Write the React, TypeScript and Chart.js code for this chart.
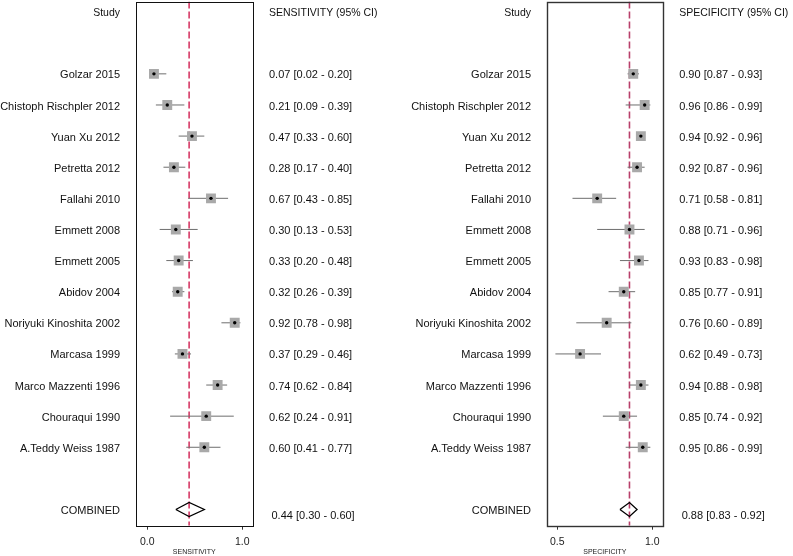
import React, { useEffect, useRef } from 'react';
import { Chart, registerables } from 'chart.js';
Chart.register(...registerables);

const studies = [
  'Golzar 2015', 'Chistoph Rischpler 2012', 'Yuan Xu 2012', 'Petretta 2012', 'Fallahi 2010',
  'Emmett 2008', 'Emmett 2005', 'Abidov 2004', 'Noriyuki Kinoshita 2002', 'Marcasa 1999',
  'Marco Mazzenti 1996', 'Chouraqui 1990', 'A.Teddy Weiss 1987',
];
const sens = [0.07, 0.21, 0.47, 0.28, 0.67, 0.30, 0.33, 0.32, 0.92, 0.37, 0.74, 0.62, 0.60];
const sensLo = [0.02, 0.09, 0.33, 0.17, 0.43, 0.13, 0.20, 0.26, 0.78, 0.29, 0.62, 0.24, 0.41];
const sensHi = [0.20, 0.39, 0.60, 0.40, 0.85, 0.53, 0.48, 0.39, 0.98, 0.46, 0.84, 0.91, 0.77];
const spec = [0.90, 0.96, 0.94, 0.92, 0.71, 0.88, 0.93, 0.85, 0.76, 0.62, 0.94, 0.85, 0.95];
const specLo = [0.87, 0.86, 0.92, 0.87, 0.58, 0.71, 0.83, 0.77, 0.60, 0.49, 0.88, 0.74, 0.86];
const specHi = [0.93, 0.99, 0.96, 0.96, 0.81, 0.96, 0.98, 0.91, 0.89, 0.73, 0.98, 0.92, 0.99];
const sensCombined = [0.44, 0.30, 0.60];
const specCombined = [0.88, 0.83, 0.92];
const sensTicks = [0.0, 1.0];
const specTicks = [0.5, 1.0];
const combinedLabel = 'COMBINED';
const studyHeader = 'Study';

const FONT = '"Liberation Sans", Arial, Helvetica, sans-serif';
const Y_MIN = -0.325;
const Y_MAX = 16.52;
const COMB_ROW = 16;

type PanelCfg = {
  est: number[]; lo: number[]; hi: number[]; comb: number[];
  header: string; axisTitle: string; ticks: number[];
  xmin: number; xmax: number; padLeft: number; padRight: number;
  refColor: string; boxColor: string; boxWidth: number;
};

const fmt = (v: number) => v.toFixed(2);

function makeChart(canvas: HTMLCanvasElement, cfg: PanelCfg) {
  const datasets: any[] = [];
  datasets.push({
    data: [{ x: cfg.comb[0], y: Y_MIN }, { x: cfg.comb[0], y: Y_MAX }],
    showLine: true, borderColor: cfg.refColor, borderWidth: 1.6, borderDash: [7, 3],
    pointRadius: 0, order: 6,
  });
  studies.forEach((_, i) => {
    datasets.push({
      data: [{ x: cfg.lo[i], y: i + 2 }, { x: cfg.hi[i], y: i + 2 }],
      showLine: true, borderColor: '#6e6e6e', borderWidth: 1, pointRadius: 0, order: 5,
    });
  });
  datasets.push({
    data: cfg.est.map((v, i) => ({ x: v, y: i + 2 })),
    pointStyle: 'rect', pointRadius: 7, backgroundColor: '#a9a9a9', pointBackgroundColor: '#a9a9a9',
    borderWidth: 0, pointBorderWidth: 0, showLine: false, order: 3,
  });
  datasets.push({
    data: cfg.est.map((v, i) => ({ x: v, y: i + 2 })),
    pointStyle: 'circle', pointRadius: 1.7, backgroundColor: '#000', pointBackgroundColor: '#000',
    borderWidth: 0, pointBorderWidth: 0, showLine: false, order: 2,
  });
  const [c, l, h] = cfg.comb;
  const dh = 0.225;
  datasets.push({
    data: [
      { x: l, y: COMB_ROW }, { x: c, y: COMB_ROW - dh }, { x: h, y: COMB_ROW },
      { x: c, y: COMB_ROW + dh }, { x: l, y: COMB_ROW },
    ],
    showLine: true, borderColor: '#000', borderWidth: 1.3, pointRadius: 0,
    borderJoinStyle: 'miter', fill: false, order: 1,
  });

  const textPlugin = {
    id: 'forestText',
    afterDraw(chart: any) {
      const { ctx, chartArea: a } = chart;
      const y = chart.scales.y;
      ctx.save();
      ctx.strokeStyle = cfg.boxColor;
      ctx.lineWidth = cfg.boxWidth;
      const L = Math.round(a.left) + 0.5, T = Math.round(a.top) + 0.5;
      const R = Math.round(a.right) + 0.5, B = Math.round(a.bottom) + 0.5;
      ctx.strokeRect(L, T, R - L, B - T);

      ctx.fillStyle = '#111';
      ctx.textBaseline = 'middle';
      ctx.font = `10.5px ${FONT}`;
      ctx.textAlign = 'right';
      ctx.fillText(studyHeader, a.left - 16, y.getPixelForValue(0) + 1.5);
      ctx.textAlign = 'left';
      ctx.fillText(cfg.header, a.right + 16.5, y.getPixelForValue(0) + 1.5);

      ctx.font = `11px ${FONT}`;
      studies.forEach((s, i) => {
        const py = y.getPixelForValue(i + 2) + 1.5;
        ctx.textAlign = 'right';
        ctx.fillText(s, a.left - 16, py);
        ctx.textAlign = 'left';
        ctx.fillText(`${fmt(cfg.est[i])} [${fmt(cfg.lo[i])} - ${fmt(cfg.hi[i])}]`, a.right + 16.5, py);
      });
      ctx.textAlign = 'right';
      ctx.fillText(combinedLabel, a.left - 16, y.getPixelForValue(COMB_ROW) + 1);
      ctx.textAlign = 'left';
      ctx.fillText(`${fmt(c)} [${fmt(l)} - ${fmt(h)}]`, a.right + 19, y.getPixelForValue(COMB_ROW + 0.17) + 1);
      ctx.restore();
    },
  };

  return new Chart(canvas, {
    type: 'scatter',
    data: { datasets },
    options: {
      responsive: false,
      animation: false,
      events: [],
      layout: { autoPadding: false, padding: { left: cfg.padLeft, right: cfg.padRight, top: 1.5, bottom: 0 } },
      plugins: { legend: { display: false }, tooltip: { enabled: false } },
      scales: {
        x: {
          type: 'linear', position: 'bottom', min: cfg.xmin, max: cfg.xmax,
          afterBuildTicks: (ax: any) => { ax.ticks = cfg.ticks.map((v) => ({ value: v })); },
          afterFit: (ax: any) => { ax.height = 30.3; },
          grid: { display: true, drawOnChartArea: false, drawTicks: true, tickLength: 4, color: '#333', lineWidth: 1 },
          border: { display: false },
          ticks: {
            font: { family: FONT, size: 10.5 }, color: '#222', padding: 6, maxRotation: 0, autoSkip: false,
            callback: (v: any) => Number(v).toFixed(1),
          },
          title: { display: true, text: cfg.axisTitle, font: { family: FONT, size: 7 }, color: '#222', padding: 0 },
        },
        y: { type: 'linear', reverse: true, min: Y_MIN, max: Y_MAX, display: false },
      },
    },
    plugins: [textPlugin],
  } as any);
}

export default function App() {
  const leftRef = useRef<HTMLCanvasElement>(null);
  const rightRef = useRef<HTMLCanvasElement>(null);
  useEffect(() => {
    const c1 = makeChart(leftRef.current!, {
      est: sens, lo: sensLo, hi: sensHi, comb: sensCombined,
      header: 'SENSITIVITY (95% CI)', axisTitle: 'SENSITIVITY', ticks: sensTicks,
      xmin: -0.119, xmax: 1.107, padLeft: 136, padRight: 143.5,
      refColor: '#d63a66', boxColor: '#111', boxWidth: 1,
    });
    const c2 = makeChart(rightRef.current!, {
      est: spec, lo: specLo, hi: specHi, comb: specCombined,
      header: 'SPECIFICITY (95% CI)', axisTitle: 'SPECIFICITY', ticks: specTicks,
      xmin: 0.4458, xmax: 1.055, padLeft: 151, padRight: 130.3,
      refColor: '#b8406a', boxColor: '#333', boxWidth: 1.4,
    });
    return () => { c1.destroy(); c2.destroy(); };
  }, []);
  return (
    <div style={{ position: 'fixed', left: 0, top: 0, width: 793, height: 556, background: '#fff' }}>
      <canvas ref={leftRef} width={396} height={556} style={{ position: 'absolute', left: 0, top: 0, display: 'block' }} />
      <canvas ref={rightRef} width={397} height={556} style={{ position: 'absolute', left: 396, top: 0, display: 'block' }} />
    </div>
  );
}
